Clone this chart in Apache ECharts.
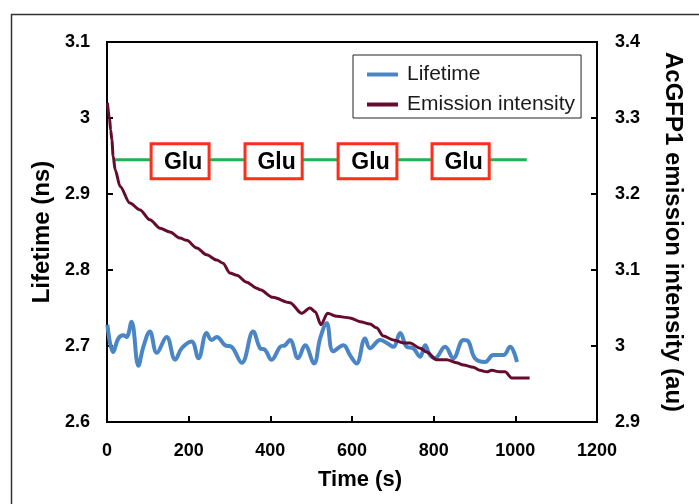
<!DOCTYPE html>
<html>
<head>
<meta charset="utf-8">
<script src="https://cdn.jsdelivr.net/npm/echarts@6/dist/echarts.min.js"></script>
<style>
html,body{margin:0;padding:0;background:#fff;}
#chart{width:699px;height:504px;}
</style>
</head>
<body>
<div id="chart"></div>
<script>
// ---- data ----
const xTicks = [0, 200, 400, 600, 800, 1000, 1200];
const leftTicks = [2.6, 2.7, 2.8, 2.9, 3, 3.1];
const rightTicks = [2.9, 3, 3.1, 3.2, 3.3, 3.4];

const lifetimeTime = [1,15,28,40,48,60,77,89,105,122,146,167,183,207,224,244,256,269,289,305,330,358,375,387,403,424,436,448,468,485,507,522,538,554,579,595,611,632,644,669,685,701,718,734,750,767,779,791,803,828,848,873,885,901,926,946,971,987,1004];
const lifetimeValues = [2.728,2.692,2.71,2.714,2.712,2.732,2.674,2.699,2.719,2.691,2.712,2.682,2.697,2.706,2.684,2.717,2.708,2.712,2.701,2.699,2.678,2.719,2.697,2.695,2.682,2.699,2.701,2.708,2.684,2.701,2.677,2.71,2.73,2.693,2.701,2.688,2.677,2.71,2.697,2.708,2.704,2.699,2.717,2.699,2.697,2.686,2.701,2.688,2.684,2.699,2.684,2.708,2.706,2.684,2.679,2.688,2.688,2.699,2.679];

const emissionTime = [1,6,9,12,15,20,32,56,81,105,130,154,179,195,220,244,269,284,301,318,342,367,375,406,448,477,497,510,524,540,563,595,620,644,660,677,701,726,742,767,783,807,832,856,873,897,913,930,942,962,975,991,1003,1035];
const emissionValues = [3.32,3.30,3.284,3.271,3.25,3.232,3.21,3.188,3.179,3.166,3.155,3.15,3.142,3.139,3.129,3.12,3.113,3.109,3.096,3.093,3.084,3.076,3.074,3.064,3.057,3.043,3.05,3.045,3.028,3.043,3.039,3.037,3.032,3.029,3.024,3.013,3.008,3.004,3.004,2.997,2.992,2.982,2.982,2.978,2.975,2.972,2.968,2.966,2.968,2.966,2.966,2.958,2.958,2.958];

const gluLabel = 'Glu';
const gluStart = [108, 338, 566, 796];
const gluEnd = [250, 478, 710, 936];
const gluTop = 2.966;
const gluBottom = 2.920;
const gluLineTime = [20, 1028];
const gluLineValue = 2.945;

// ---- build ----
const FONT = "'Liberation Sans', Arial, sans-serif";
const zip = (a, b) => a.map((v, i) => [v, b[i]]);

const chart = echarts.init(document.getElementById('chart'), null, {renderer: 'canvas'});

const axisCommon = {
  axisLine: {show: true, lineStyle: {color: '#000', width: 2}},
  axisTick: {show: true, inside: true, length: 6, lineStyle: {color: '#000', width: 2}},
  splitLine: {show: false},
  axisLabel: {color: '#000', fontWeight: 'bold', fontSize: 18, fontFamily: FONT, formatter: v => String(+v.toFixed(2))},
  nameTextStyle: {color: '#000', fontWeight: 'bold', fontSize: 24, fontFamily: FONT}
};

chart.setOption({
  animation: false,
  backgroundColor: '#fff',
  textStyle: {fontFamily: FONT},
  grid: {left: 107, top: 42, width: 490, height: 380, show: true, borderColor: '#000', borderWidth: 2, backgroundColor: 'transparent'},
  legend: {
    orient: 'vertical',
    left: 353, top: 55,
    padding: [9, 6, 3, 14],
    itemGap: 9,
    itemWidth: 31, itemHeight: 4,
    icon: 'rect',
    borderColor: '#222', borderWidth: 1,
    textStyle: {fontSize: 21, color: '#1a1a1a', fontFamily: FONT, padding: [0, 0, 0, 4], lineHeight: 21},
    data: ['Lifetime', 'Emission intensity']
  },
  xAxis: Object.assign({}, axisCommon, {
    type: 'value', min: xTicks[0], max: xTicks[xTicks.length - 1], interval: 200,
    name: 'Time (s)', nameLocation: 'middle', nameGap: 47,
    axisLabel: Object.assign({}, axisCommon.axisLabel, {margin: 20}),
    nameTextStyle: Object.assign({}, axisCommon.nameTextStyle, {fontSize: 22, padding: [0, 0, 0, 16]})
  }),
  yAxis: [
    Object.assign({}, axisCommon, {
      type: 'value', min: leftTicks[0], max: leftTicks[leftTicks.length - 1], interval: 0.1,
      position: 'left',
      name: 'Lifetime (ns)', nameLocation: 'middle', nameGap: 53, nameRotate: 90,
      axisLabel: Object.assign({}, axisCommon.axisLabel, {margin: 17})
    }),
    Object.assign({}, axisCommon, {
      type: 'value', min: rightTicks[0], max: rightTicks[rightTicks.length - 1], interval: 0.1,
      position: 'right',
      name: 'AcGFP1 emission intensity (au)', nameLocation: 'middle', nameGap: 64, nameRotate: -90,
      axisLabel: Object.assign({}, axisCommon.axisLabel, {margin: 18})
    })
  ],
  series: [
    {
      name: 'Glu line', type: 'line', yAxisIndex: 0, z: 1, silent: true,
      symbol: 'none',
      data: gluLineTime.map(t => [t, gluLineValue]),
      lineStyle: {color: '#1db34f', width: 3}
    },
    {
      name: 'Glu boxes', type: 'line', yAxisIndex: 0, z: 6, silent: true,
      data: [],
      markArea: {
        silent: true, z: 6,
        itemStyle: {color: '#fff', opacity: 1, borderColor: '#ff2e1c', borderWidth: 3},
        label: {show: true, position: 'inside', formatter: gluLabel, color: '#000', fontWeight: 'bold', fontSize: 23, fontFamily: FONT, offset: [3, 1]},
        data: gluStart.map((s, i) => [{xAxis: s, yAxis: gluTop}, {xAxis: gluEnd[i], yAxis: gluBottom}])
      }
    },
    {
      name: 'Lifetime', type: 'line', yAxisIndex: 0, z: 4,
      symbol: 'none', smooth: 0.4,
      data: zip(lifetimeTime, lifetimeValues),
      lineStyle: {color: '#4a86c6', width: 4},
      itemStyle: {color: '#4a86c6'}
    },
    {
      name: 'Emission intensity', type: 'line', yAxisIndex: 1, z: 5,
      symbol: 'none', smooth: 0.3, smoothMonotone: 'x',
      data: zip(emissionTime, emissionValues),
      lineStyle: {color: '#650c2e', width: 3},
      itemStyle: {color: '#650c2e'}
    }
  ],
  graphic: [
    {type: 'line', shape: {x1: 11.5, y1: 14, x2: 11.5, y2: 504}, style: {stroke: '#333', lineWidth: 1.5}, silent: true},
    {type: 'line', shape: {x1: 11, y1: 14.5, x2: 699, y2: 14.5}, style: {stroke: '#333', lineWidth: 1.5}, silent: true}
  ]
});
</script>
</body>
</html>
